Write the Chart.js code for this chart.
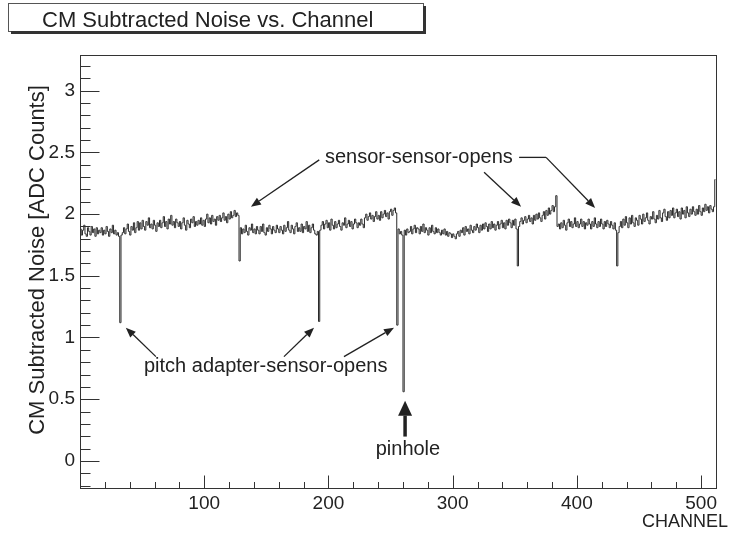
<!DOCTYPE html>
<html>
<head>
<meta charset="utf-8">
<script src="https://cdn.jsdelivr.net/npm/chart.js@4.4.1/dist/chart.umd.min.js"></script>
<style>
  html, body { margin: 0; padding: 0; background: #fff; }
  canvas { display: block; }
</style>
</head>
<body>
<canvas id="noiseChart" width="730" height="533"></canvas>
<script>
// ─── DATA (CM subtracted noise per channel, 512 bins) ───────────
// channels 0..127
const noiseA = [
  1.88,1.83,1.87,1.91,1.84,1.82,1.89,1.86,1.83,1.90,1.85,1.88,1.82,1.89,1.84,1.87,
  1.85,1.89,1.83,1.87,1.84,1.90,1.86,1.82,1.88,1.85,1.91,1.84,1.87,1.83,1.85,1.82,
  1.12,1.83,1.85,1.89,1.84,1.88,1.92,1.86,1.83,1.90,1.87,1.93,1.85,1.89,1.94,1.87,
  1.93,1.88,1.95,1.90,1.87,1.94,1.91,1.97,1.89,1.92,1.88,1.95,1.91,1.86,1.93,1.90,
  1.95,1.89,1.93,1.98,1.90,1.94,1.88,1.96,1.92,1.99,1.91,1.94,1.89,1.96,1.93,1.90,
  1.94,1.88,1.93,1.97,1.91,1.87,1.95,1.92,1.89,1.96,1.93,1.98,1.90,1.94,1.91,1.95,
  1.92,1.97,1.91,1.95,1.90,1.96,2.00,1.93,1.97,1.92,1.99,1.94,1.96,1.91,1.98,1.95,
  1.99,1.94,1.97,2.01,1.95,1.98,1.93,2.00,1.96,2.02,1.97,1.99,2.03,1.98,2.01,1.99
];
// channels 128..255
const noiseB = [
  1.62,1.89,1.84,1.88,1.85,1.91,1.86,1.83,1.89,1.87,1.92,1.85,1.88,1.84,1.90,1.87,
  1.84,1.90,1.86,1.92,1.85,1.83,1.89,1.86,1.91,1.88,1.84,1.90,1.87,1.85,1.91,1.88,
  1.85,1.90,1.87,1.84,1.91,1.86,1.89,1.94,1.87,1.85,1.91,1.88,1.84,1.90,1.93,1.86,
  1.89,1.86,1.92,1.85,1.90,1.88,1.94,1.86,1.91,1.85,1.89,1.92,1.87,1.84,1.83,1.86,
  1.13,1.87,1.91,1.94,1.88,1.92,1.95,1.89,1.93,1.87,1.96,1.91,1.88,1.94,1.89,1.92,
  1.95,1.90,1.87,1.93,1.91,1.97,1.89,1.92,1.95,1.90,1.94,1.88,1.92,1.96,1.93,1.89,
  1.93,1.91,1.96,1.92,1.89,1.97,2.00,1.95,1.98,2.01,1.96,1.99,1.94,1.98,2.02,1.96,
  1.99,1.95,2.02,1.97,2.00,2.03,1.98,2.01,1.96,2.02,2.04,1.99,2.03,2.05,2.01,1.10
];
// channels 256..383
const noiseC = [
  1.88,1.84,1.86,1.83,0.56,1.87,1.83,1.88,1.85,1.86,1.90,1.84,1.88,1.91,1.85,1.89,
  1.88,1.84,1.90,1.86,1.92,1.85,1.89,1.87,1.83,1.89,1.85,1.91,1.86,1.84,1.89,1.85,
  1.88,1.85,1.83,1.87,1.84,1.88,1.83,1.86,1.82,1.85,1.84,1.81,1.84,1.82,1.80,1.84,
  1.86,1.82,1.87,1.85,1.89,1.83,1.90,1.86,1.88,1.84,1.91,1.87,1.85,1.90,1.87,1.92,
  1.89,1.85,1.91,1.87,1.92,1.88,1.93,1.90,1.86,1.92,1.88,1.94,1.89,1.92,1.87,1.91,
  1.94,1.88,1.92,1.95,1.89,1.93,1.88,1.95,1.91,1.96,1.93,1.89,1.95,1.91,1.96,1.88,
  1.58,1.90,1.94,1.97,1.92,1.95,1.98,1.93,1.96,1.99,1.94,1.97,1.92,1.99,1.95,2.00,
  1.96,2.01,1.97,1.94,1.99,2.02,1.96,2.03,1.99,2.05,2.00,2.03,2.07,2.02,2.06,2.15
];
// channels 384..511
const noiseD = [
  1.90,1.92,1.88,1.93,1.89,1.95,1.91,1.87,1.93,1.96,1.90,1.94,1.89,1.92,1.97,1.90,
  1.94,1.89,1.92,1.96,1.90,1.94,1.88,1.93,1.91,1.96,1.92,1.88,1.94,1.90,1.97,1.92,
  1.89,1.94,1.90,1.96,1.92,1.88,1.94,1.90,1.95,1.92,1.89,1.94,1.91,1.88,1.93,1.87,
  1.58,1.85,1.90,1.94,1.89,1.96,1.91,1.98,1.93,1.89,1.97,1.92,1.99,1.93,1.90,1.97,
  1.95,1.91,1.99,1.96,1.92,2.00,1.94,1.97,2.01,1.95,1.92,1.98,1.96,2.02,1.96,1.93,
  1.99,1.96,2.03,1.97,1.94,2.01,2.04,1.98,1.95,2.02,1.97,2.03,1.99,2.05,1.97,2.01,
  2.04,1.98,2.02,1.96,2.05,2.00,2.03,1.97,2.06,2.01,1.98,2.04,2.00,2.06,2.02,1.99,
  2.04,2.00,2.07,2.02,1.99,2.05,2.02,2.08,2.03,2.06,2.01,2.07,2.04,2.02,2.06,2.28
];

const xTicks = [100, 200, 300, 400, 500];
const yTicks = [0, 0.5, 1, 1.5, 2, 2.5, 3];

const X_MIN = 0, X_MAX = 512;
const Y_MIN = -0.22, Y_MAX = 3.29;

const TITLE   = 'CM Subtracted Noise vs. Channel';
const X_TITLE = 'CHANNEL';
const Y_TITLE = 'CM Subtracted Noise [ADC Counts]';

// ─── ANNOTATIONS (in channel / ADC units) ─────────────────────
const notes = [
  { text: 'sensor-sensor-opens',        x: 197.2, y: 2.416, align: 'left' },
  { text: 'pitch adapter-sensor-opens', x: 51.5,  y: 0.724, align: 'left' },
  { text: 'pinhole',                    x: 264.0, y: 0.05,  align: 'center' }
];
// [x0, y0, x1, y1] : tail -> head
const arrows = [
  [192.6, 2.44, 137.6, 2.06],
  [325.3, 2.34, 355.1, 2.06],
  [375.2, 2.46, 414.7, 2.05],
  [61.1, 0.845, 36.9, 1.08],
  [164.2, 0.845, 188.4, 1.08],
  [212.5, 0.845, 252.8, 1.08]
];
const dashes = [ [353.5, 2.46, 375.2, 2.46] ];
const bigArrow = [261.7, 0.197, 261.7, 0.488];

const FONT = '"Liberation Sans", Arial, Helvetica, sans-serif';
const INK  = '#222';

const noise  = [...noiseA, ...noiseB, ...noiseC, ...noiseD];
const points = noise.map((v, i) => ({ x: i + 0.5, y: v }));

// ─── helpers ──────────────────────────────────────────────────
function drawArrow(ctx, x0, y0, x1, y1, headLen, headHalf, width) {
    const ang = Math.atan2(y1 - y0, x1 - x0);
    const bx = x1 - headLen * Math.cos(ang);
    const by = y1 - headLen * Math.sin(ang);
    ctx.lineWidth = width;
    ctx.beginPath();
    ctx.moveTo(x0, y0);
    ctx.lineTo(bx, by);
    ctx.stroke();
    ctx.beginPath();
    ctx.moveTo(x1, y1);
    ctx.lineTo(bx + headHalf * Math.sin(ang), by - headHalf * Math.cos(ang));
    ctx.lineTo(bx - headHalf * Math.sin(ang), by + headHalf * Math.cos(ang));
    ctx.closePath();
    ctx.fill();
}

// ROOT style frame, inward ticks, title box and labels
const rootFrame = {
    id: 'rootFrame',
    afterDatasetsDraw(chart) {
        const { ctx, chartArea: a, scales: { x, y } } = chart;
        const L = Math.round(a.left) + 0.5, R = Math.round(a.right) + 0.5;
        const T = Math.round(a.top) + 0.5,  B = Math.round(a.bottom) + 0.5;
        ctx.save();
        ctx.strokeStyle = '#333';
        ctx.lineWidth = 1;
        ctx.strokeRect(L, T, R - L, B - T);

        ctx.beginPath();
        for (let c = 20; c < X_MAX; c += 20) {
            const px = Math.round(x.getPixelForValue(c)) + 0.5;
            const len = c % 100 === 0 ? 13 : 6.5;
            ctx.moveTo(px, B);
            ctx.lineTo(px, B - len);
        }
        for (let k = -2; k <= 32; k++) {
            const py = Math.round(y.getPixelForValue(k / 10)) + 0.5;
            const len = k % 5 === 0 ? 19 : 10;
            ctx.moveTo(L, py);
            ctx.lineTo(L + len, py);
        }
        ctx.stroke();

        // annotations
        ctx.fillStyle = INK;
        ctx.strokeStyle = INK;
        arrows.forEach(([x0, y0, x1, y1]) => {
            drawArrow(ctx, x.getPixelForValue(x0), y.getPixelForValue(y0),
                      x.getPixelForValue(x1), y.getPixelForValue(y1), 10, 4, 1.3);
        });
        ctx.lineWidth = 1.3;
        dashes.forEach(([x0, y0, x1, y1]) => {
            ctx.beginPath();
            ctx.moveTo(x.getPixelForValue(x0), y.getPixelForValue(y0));
            ctx.lineTo(x.getPixelForValue(x1), y.getPixelForValue(y1));
            ctx.stroke();
        });
        drawArrow(ctx, x.getPixelForValue(bigArrow[0]), y.getPixelForValue(bigArrow[1]),
                  x.getPixelForValue(bigArrow[2]), y.getPixelForValue(bigArrow[3]), 15, 7, 3.5);

        ctx.font = `20px ${FONT}`;
        ctx.textBaseline = 'alphabetic';
        notes.forEach(n => {
            ctx.textAlign = n.align;
            ctx.fillText(n.text, x.getPixelForValue(n.x), y.getPixelForValue(n.y));
        });

        // axis titles
        ctx.font = `18px ${FONT}`;
        ctx.textAlign = 'right';
        ctx.fillText(X_TITLE, 728, 527);
        ctx.save();
        ctx.translate(44, 260);
        ctx.rotate(-Math.PI / 2);
        ctx.textAlign = 'center';
        ctx.font = `22px ${FONT}`;
        ctx.fillText(Y_TITLE, 0, 0);
        ctx.restore();

        // title box with shadow
        ctx.fillStyle = '#fff';
        ctx.fillRect(8.5, 3.5, 415, 28);
        ctx.strokeStyle = '#555';
        ctx.lineWidth = 1;
        ctx.strokeRect(8.5, 3.5, 415, 28);
        ctx.fillStyle = '#333';
        ctx.fillRect(423, 6, 3, 28);
        ctx.fillRect(11, 31, 415, 3);
        ctx.fillStyle = INK;
        ctx.font = `22px ${FONT}`;
        ctx.textAlign = 'left';
        ctx.fillText(TITLE, 42, 27);
        ctx.restore();
    }
};

// ─── CHART ────────────────────────────────────────────────────
const chart = new Chart(document.getElementById('noiseChart'), {
    type: 'line',
    data: {
        datasets: [{
            data: points,
            borderColor: '#2a2a2a',
            borderWidth: 1,
            pointRadius: 0,
            stepped: 'middle',
            fill: false
        }]
    },
    options: {
        responsive: false,
        animation: false,
        events: [],
        layout: { padding: { top: 55, right: 14, left: 0, bottom: 0 } },
        plugins: {
            legend:  { display: false },
            tooltip: { enabled: false },
            title:   { display: false }
        },
        scales: {
            x: {
                type: 'linear',
                min: X_MIN,
                max: X_MAX,
                grid:   { display: false, drawTicks: false },
                border: { display: false },
                afterBuildTicks: s => { s.ticks = xTicks.map(v => ({ value: v })); },
                afterFit: s => { s.height = 45; },
                ticks: {
                    font: { family: FONT, size: 19 },
                    color: INK,
                    padding: 4,
                    maxRotation: 0,
                    autoSkip: false,
                    callback: v => String(v)
                }
            },
            y: {
                type: 'linear',
                min: Y_MIN,
                max: Y_MAX,
                grid:   { display: false, drawTicks: false },
                border: { display: false },
                afterBuildTicks: s => { s.ticks = yTicks.map(v => ({ value: v })); },
                afterFit: s => { s.width = 80; },
                ticks: {
                    font: { family: FONT, size: 19 },
                    color: INK,
                    padding: 5,
                    autoSkip: false,
                    callback: v => String(v)
                }
            }
        }
    },
    plugins: [rootFrame]
});
</script>
</body>
</html>
